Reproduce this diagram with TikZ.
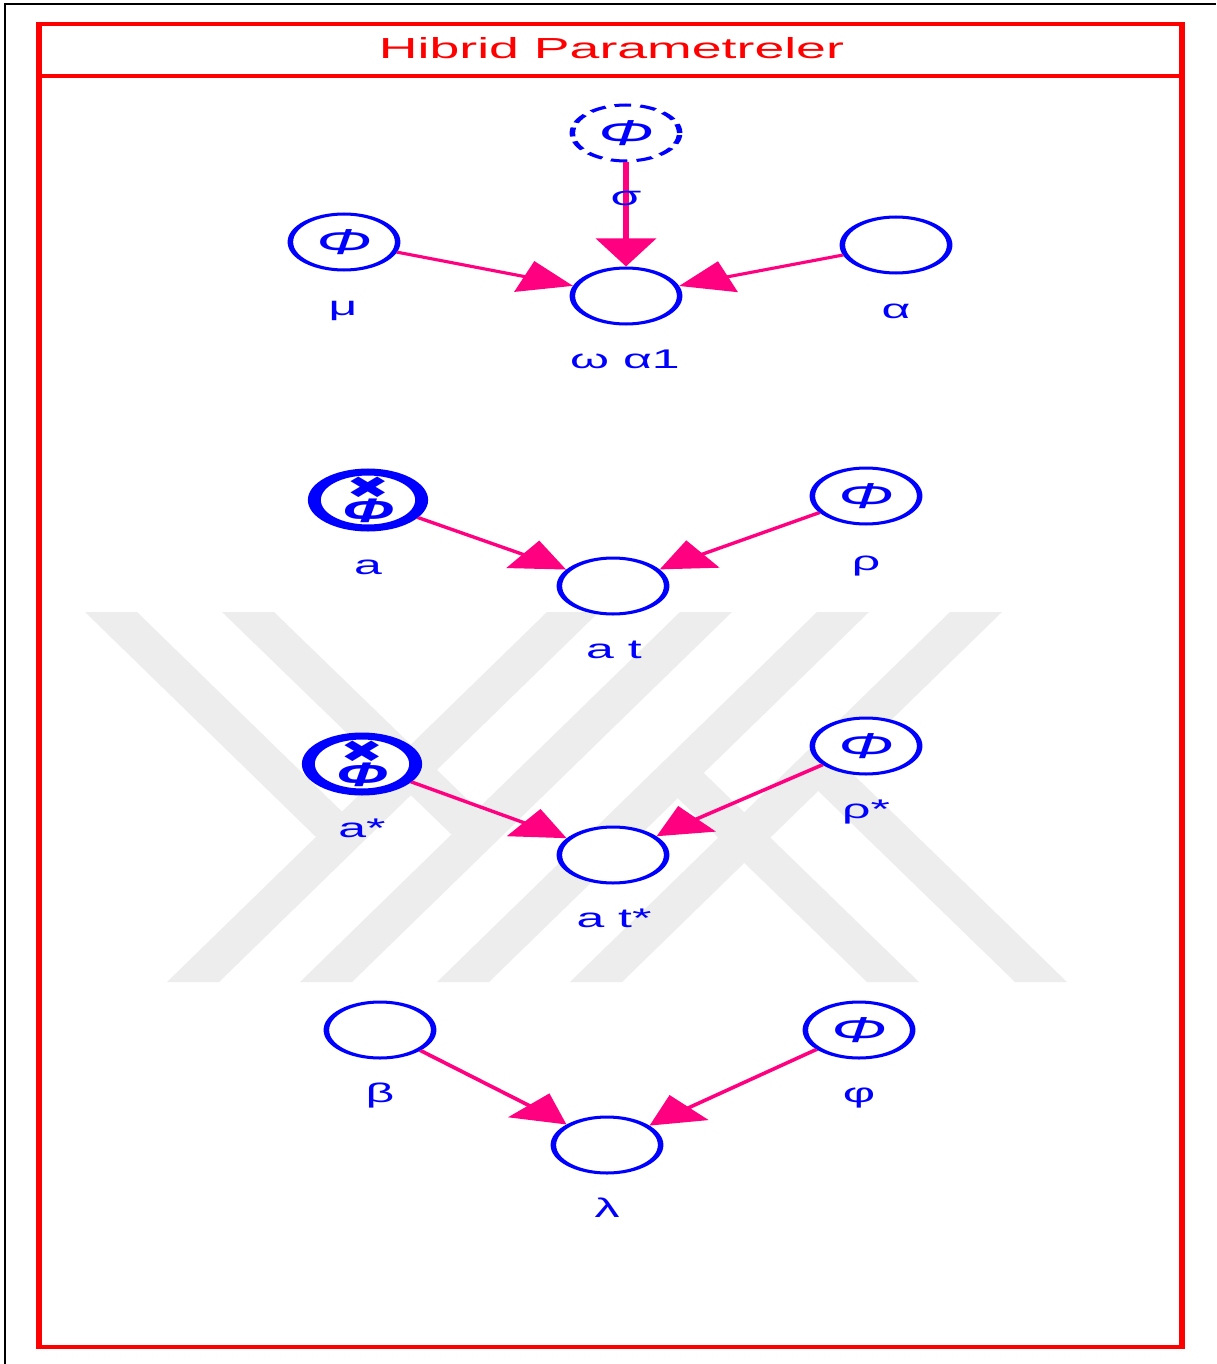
\documentclass[tikz,border=0pt]{standalone}
\usepackage{fontspec}
\setmainfont{Liberation Sans}
\newfontfamily\symfont{DejaVu Sans}
\usetikzlibrary{arrows.meta,shapes.geometric}
\definecolor{frameRed}{RGB}{255,0,0}
\definecolor{nodeBlue}{RGB}{0,0,255}
\definecolor{edgePink}{RGB}{255,0,128}
\definecolor{markGray}{RGB}{237,237,237}
\newcommand{\phiglyph}{{\fontsize{36}{38}\selectfont\itshape Φ}}
\newcommand{\obsglyph}{\raisebox{-22pt}[0pt][0pt]{\shortstack{{\fontsize{28}{28}\selectfont\symfont\bfseries\scalebox{1}[1.1]{✖}}\\[-3pt]{\fontsize{34}{36}\selectfont\bfseries\itshape Φ}}}}
\tikzset{
  pnode/.style={ellipse, draw=nodeBlue, line width=3pt, fill=white,
    minimum width=58pt, minimum height=56pt, inner sep=0pt,
    text=nodeBlue, align=center},
  obsnode/.style={pnode, line width=7pt},
  hidnode/.style={pnode, dash pattern=on 9pt off 5pt},
  lbl/.style={text=nodeBlue, font=\fontsize{27}{29}\selectfont, anchor=base, inner sep=0pt},
  link/.style={draw=edgePink, line width=3pt, -{Triangle[length=28pt,width=32pt]}},
  frameline/.style={draw=frameRed, line width=3.6pt},
  titletext/.style={text=frameRed, font=\fontsize{29}{31}\selectfont, anchor=base, inner sep=0pt}
}
\begin{document}
\begin{tikzpicture}[x=1pt,y=-1pt]
\useasboundingbox (0,0) rectangle (1216,1364);
\fill[white] (0,0) rectangle (1216,1364);
% page border
\draw[black, line width=2.5pt] (5,1364) -- (5,4) -- (1216,4);
% light background emblem
\begin{scope}[fill=markGray]
  \foreach \t in {547,680,817,950}
    \fill (\t,612) -- (\t+52,612) -- (\t-328,982) -- (\t-380,982) -- cycle;
  \fill (85,612) -- (137,612) -- (367,836) -- (315,836) -- cycle;
  \fill (222,612) -- (274,612) -- (503,834) -- (451,834) -- cycle;
  \fill (867,982) -- (919,982) -- (703.5,772.7) -- (651.5,772.7) -- cycle;
  \fill (1015,982) -- (1067,982) -- (844,765.5) -- (792,765.5) -- cycle;
\end{scope}
% the network, drawn on a horizontally widened canvas
\begin{scope}[transform canvas={xscale=1.85}, x=0.540541pt, y=-1pt]
  \draw[frameline] (39,24) rectangle (1182,1347);
  \draw[frameline] (39,76) -- (1182,76);
  \node[titletext] (title) at (611.5,59) {Hibrid Parametreler};

  % first group
  \node[hidnode] (sig) at (626,133) {\phiglyph};
  \node[pnode] (mu) at (344,242) {\phiglyph};
  \node[pnode] (w) at (626,296) {};
  \node[pnode] (al) at (896,245) {};
  % second group
  \node[obsnode] (a) at (368,500) {\obsglyph};
  \node[pnode] (rho) at (866,496) {\phiglyph};
  \node[pnode] (at) at (613,586) {};
  % third group
  \node[obsnode] (as) at (362,764) {\obsglyph};
  \node[pnode] (rhos) at (866,746) {\phiglyph};
  \node[pnode] (ats) at (613,855) {};
  % fourth group
  \node[pnode] (beta) at (380,1030) {};
  \node[pnode] (phi) at (859,1030) {\phiglyph};
  \node[pnode] (lam) at (607,1145) {};

  % dependencies
  \draw[link] (sig) -- (w);
  \draw[link] (mu) -- (w);
  \draw[link] (al) -- (w);
  \draw[link] (a) -- (at);
  \draw[link] (rho) -- (at);
  \draw[link] (as) -- (ats);
  \draw[link] (rhos) -- (ats);
  \draw[link] (beta) -- (lam);
  \draw[link] (phi) -- (lam);

  % parameter names
  \node[lbl] (sigL) at (626,206) {σ};
  \node[lbl] (muL) at (343,315) {μ};
  \node[lbl] (wL) at (625,368) {ω α1};
  \node[lbl] (alL) at (896,318) {α};
  \node[lbl] (aL) at (368,574) {a};
  \node[lbl] (rhoL) at (866,570) {ρ};
  \node[lbl] (atL) at (614,658) {a t};
  \node[lbl] (asL) at (362,837) {a*};
  \node[lbl] (rhosL) at (866,818) {ρ*};
  \node[lbl] (atsL) at (614,927) {a t*};
  \node[lbl] (betaL) at (380,1102) {β};
  \node[lbl] (phiL) at (859,1102) {φ};
  \node[lbl] (lamL) at (607,1217) {λ};
\end{scope}
\end{tikzpicture}
\end{document}
